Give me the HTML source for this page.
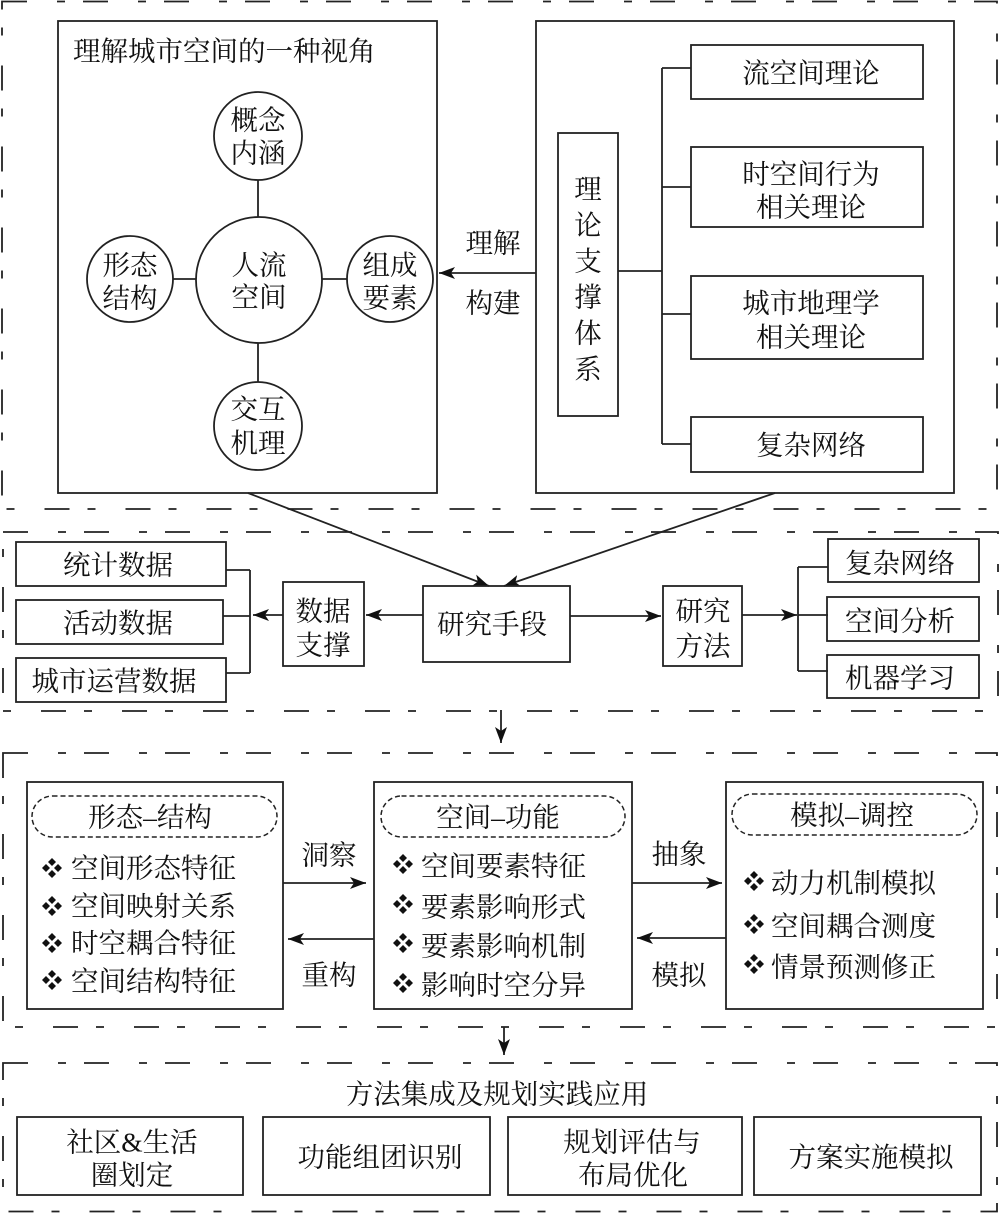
<!DOCTYPE html>
<html><head><meta charset="utf-8">
<style>
html,body{margin:0;padding:0;background:#fff;}
svg{display:block;}
text{font-family:"Liberation Serif","Noto Serif CJK SC",serif;font-size:27.5px;fill:#111;dominant-baseline:central;}
.c{text-anchor:middle;}
.b{fill:none;stroke:#222;stroke-width:1.8;}
.d{fill:none;stroke:#222;stroke-width:1.8;stroke-dasharray:25 30 8 18;}
.p{fill:none;stroke:#222;stroke-width:1.5;stroke-dasharray:5 3;}
.l{stroke:#222;stroke-width:1.8;fill:none;}
</style></head>
<body>
<svg width="1000" height="1213" viewBox="0 0 1000 1213" xmlns="http://www.w3.org/2000/svg">
<defs>
<marker id="a" markerUnits="userSpaceOnUse" markerWidth="18" markerHeight="14" refX="16" refY="6" orient="auto">
<path d="M0,0 L16,6 L0,12 L4,6 Z" fill="#111"/>
</marker>
</defs>

<!-- Section 1 -->
<rect class="d" x="2" y="1.5" width="995" height="507.5"/>
<rect class="b" x="58" y="21" width="379" height="472"/>
<text x="73" y="51">理解城市空间的一种视角</text>
<line class="l" x1="258" y1="180" x2="258" y2="217"/>
<line class="l" x1="258" y1="343" x2="258" y2="382"/>
<line class="l" x1="173" y1="279" x2="196" y2="279"/>
<line class="l" x1="322" y1="279" x2="347" y2="279"/>
<circle class="b" cx="258" cy="136" r="44"/>
<circle class="b" cx="259" cy="280" r="63"/>
<circle class="b" cx="130" cy="279" r="43"/>
<circle class="b" cx="390" cy="279" r="43"/>
<circle class="b" cx="258" cy="426" r="44"/>
<text class="c" x="258" y="120">概念</text>
<text class="c" x="258" y="153">内涵</text>
<text class="c" x="259" y="265">人流</text>
<text class="c" x="259" y="297">空间</text>
<text class="c" x="130" y="265">形态</text>
<text class="c" x="130" y="298">结构</text>
<text class="c" x="390" y="265">组成</text>
<text class="c" x="390" y="298">要素</text>
<text class="c" x="258" y="409">交互</text>
<text class="c" x="258" y="443">机理</text>

<rect class="b" x="536" y="21" width="418" height="472"/>
<rect class="b" x="558" y="133" width="60" height="283"/>
<text class="c" x="588" y="189">理</text>
<text class="c" x="588" y="225">论</text>
<text class="c" x="588" y="261">支</text>
<text class="c" x="588" y="297">撑</text>
<text class="c" x="588" y="333">体</text>
<text class="c" x="588" y="369">系</text>
<line class="l" x1="618" y1="271" x2="662" y2="271"/>
<line class="l" x1="662" y1="68" x2="662" y2="444"/>
<line class="l" x1="662" y1="68" x2="691" y2="68"/>
<line class="l" x1="662" y1="187" x2="691" y2="187"/>
<line class="l" x1="662" y1="314" x2="691" y2="314"/>
<line class="l" x1="662" y1="444" x2="691" y2="444"/>
<rect class="b" x="691" y="45" width="232" height="54"/>
<rect class="b" x="691" y="147" width="232" height="80"/>
<rect class="b" x="691" y="276" width="232" height="83"/>
<rect class="b" x="691" y="417" width="232" height="55"/>
<text class="c" x="811" y="73">流空间理论</text>
<text class="c" x="811" y="174">时空间行为</text>
<text class="c" x="811" y="207">相关理论</text>
<text class="c" x="811" y="303">城市地理学</text>
<text class="c" x="811" y="337">相关理论</text>
<text class="c" x="811" y="445">复杂网络</text>

<line class="l" x1="536" y1="273" x2="439" y2="273" marker-end="url(#a)"/>
<text class="c" x="493" y="243">理解</text>
<text class="c" x="493" y="303">构建</text>

<!-- connectors to section 2 -->
<line class="l" x1="248" y1="493" x2="489" y2="586" marker-end="url(#a)"/>
<line class="l" x1="775" y1="493" x2="504" y2="586" marker-end="url(#a)"/>

<!-- Section 2 -->
<rect class="d" x="3" y="532" width="995" height="179"/>
<rect class="b" x="16" y="542" width="210" height="44"/>
<rect class="b" x="16" y="600" width="207" height="44"/>
<rect class="b" x="16" y="658" width="210" height="44"/>
<text class="c" x="118" y="565">统计数据</text>
<text class="c" x="118" y="623">活动数据</text>
<text class="c" x="114" y="681">城市运营数据</text>
<line class="l" x1="226" y1="570" x2="250" y2="570"/>
<line class="l" x1="223" y1="616" x2="250" y2="616"/>
<line class="l" x1="226" y1="673" x2="250" y2="673"/>
<line class="l" x1="250" y1="570" x2="250" y2="673"/>
<line class="l" x1="283" y1="615" x2="253" y2="615" marker-end="url(#a)"/>
<rect class="b" x="283" y="582" width="81" height="84"/>
<text class="c" x="323" y="611">数据</text>
<text class="c" x="323" y="645">支撑</text>
<line class="l" x1="423" y1="615" x2="366" y2="615" marker-end="url(#a)"/>
<rect class="b" x="423" y="586" width="147" height="76"/>
<text class="c" x="492" y="624">研究手段</text>
<line class="l" x1="570" y1="616" x2="661" y2="616" marker-end="url(#a)"/>
<rect class="b" x="663" y="586" width="79" height="80"/>
<text class="c" x="703" y="611">研究</text>
<text class="c" x="703" y="646">方法</text>
<line class="l" x1="742" y1="615" x2="797" y2="615" marker-end="url(#a)"/>
<line class="l" x1="798" y1="567" x2="798" y2="671"/>
<line class="l" x1="798" y1="567" x2="828" y2="567"/>
<line class="l" x1="798" y1="615" x2="828" y2="615"/>
<line class="l" x1="798" y1="671" x2="828" y2="671"/>
<rect class="b" x="828" y="539" width="151" height="43"/>
<rect class="b" x="827" y="597" width="152" height="44"/>
<rect class="b" x="827" y="655" width="152" height="43"/>
<text class="c" x="900" y="563">复杂网络</text>
<text class="c" x="900" y="621">空间分析</text>
<text class="c" x="900" y="678">机器学习</text>

<line class="l" x1="501" y1="710" x2="501" y2="743" marker-end="url(#a)"/>

<!-- Section 3 -->
<rect class="d" x="3" y="753" width="994" height="274"/>
<rect class="b" x="27" y="782" width="256" height="227"/>
<rect class="b" x="374" y="782" width="258" height="227"/>
<rect class="b" x="726" y="782" width="257" height="227"/>
<rect class="p" x="32" y="796" width="245" height="41" rx="20.5"/>
<rect class="p" x="381" y="796" width="244" height="41" rx="20.5"/>
<rect class="p" x="732" y="794" width="245" height="41" rx="20.5"/>
<text class="c" x="150" y="817">形态–结构</text>
<text class="c" x="498" y="817">空间–功能</text>
<text class="c" x="852" y="815">模拟–调控</text>

<g fill="#111">
<!-- bullets left -->
<g transform="translate(52,868)"><path d="M0,-10 L4,-6 L0,-2 L-4,-6Z M0,2 L4,6 L0,10 L-4,6Z M-10,0 L-6,-4 L-2,0 L-6,4Z M2,0 L6,-4 L10,0 L6,4Z"/></g>
<g transform="translate(52,906)"><path d="M0,-10 L4,-6 L0,-2 L-4,-6Z M0,2 L4,6 L0,10 L-4,6Z M-10,0 L-6,-4 L-2,0 L-6,4Z M2,0 L6,-4 L10,0 L6,4Z"/></g>
<g transform="translate(52,943)"><path d="M0,-10 L4,-6 L0,-2 L-4,-6Z M0,2 L4,6 L0,10 L-4,6Z M-10,0 L-6,-4 L-2,0 L-6,4Z M2,0 L6,-4 L10,0 L6,4Z"/></g>
<g transform="translate(52,980)"><path d="M0,-10 L4,-6 L0,-2 L-4,-6Z M0,2 L4,6 L0,10 L-4,6Z M-10,0 L-6,-4 L-2,0 L-6,4Z M2,0 L6,-4 L10,0 L6,4Z"/></g>
<!-- bullets middle -->
<g transform="translate(403,864)"><path d="M0,-10 L4,-6 L0,-2 L-4,-6Z M0,2 L4,6 L0,10 L-4,6Z M-10,0 L-6,-4 L-2,0 L-6,4Z M2,0 L6,-4 L10,0 L6,4Z"/></g>
<g transform="translate(403,904)"><path d="M0,-10 L4,-6 L0,-2 L-4,-6Z M0,2 L4,6 L0,10 L-4,6Z M-10,0 L-6,-4 L-2,0 L-6,4Z M2,0 L6,-4 L10,0 L6,4Z"/></g>
<g transform="translate(403,943)"><path d="M0,-10 L4,-6 L0,-2 L-4,-6Z M0,2 L4,6 L0,10 L-4,6Z M-10,0 L-6,-4 L-2,0 L-6,4Z M2,0 L6,-4 L10,0 L6,4Z"/></g>
<g transform="translate(403,983)"><path d="M0,-10 L4,-6 L0,-2 L-4,-6Z M0,2 L4,6 L0,10 L-4,6Z M-10,0 L-6,-4 L-2,0 L-6,4Z M2,0 L6,-4 L10,0 L6,4Z"/></g>
<!-- bullets right -->
<g transform="translate(754,881)"><path d="M0,-10 L4,-6 L0,-2 L-4,-6Z M0,2 L4,6 L0,10 L-4,6Z M-10,0 L-6,-4 L-2,0 L-6,4Z M2,0 L6,-4 L10,0 L6,4Z"/></g>
<g transform="translate(754,924)"><path d="M0,-10 L4,-6 L0,-2 L-4,-6Z M0,2 L4,6 L0,10 L-4,6Z M-10,0 L-6,-4 L-2,0 L-6,4Z M2,0 L6,-4 L10,0 L6,4Z"/></g>
<g transform="translate(754,964)"><path d="M0,-10 L4,-6 L0,-2 L-4,-6Z M0,2 L4,6 L0,10 L-4,6Z M-10,0 L-6,-4 L-2,0 L-6,4Z M2,0 L6,-4 L10,0 L6,4Z"/></g>
</g>

<text x="71" y="868">空间形态特征</text>
<text x="71" y="906">空间映射关系</text>
<text x="71" y="943">时空耦合特征</text>
<text x="71" y="981">空间结构特征</text>
<text x="421" y="866">空间要素特征</text>
<text x="421" y="907">要素影响形式</text>
<text x="421" y="946">要素影响机制</text>
<text x="421" y="985">影响时空分异</text>
<text x="771" y="883">动力机制模拟</text>
<text x="771" y="926">空间耦合测度</text>
<text x="771" y="967">情景预测修正</text>

<line class="l" x1="283" y1="883" x2="366" y2="883" marker-end="url(#a)"/>
<line class="l" x1="374" y1="939" x2="288" y2="939" marker-end="url(#a)"/>
<text class="c" x="329" y="855">洞察</text>
<text class="c" x="329" y="975">重构</text>
<line class="l" x1="632" y1="883" x2="722" y2="883" marker-end="url(#a)"/>
<line class="l" x1="726" y1="938" x2="637" y2="938" marker-end="url(#a)"/>
<text class="c" x="679" y="854">抽象</text>
<text class="c" x="679" y="975">模拟</text>

<line class="l" x1="504" y1="1027" x2="504" y2="1055" marker-end="url(#a)"/>

<!-- Section 4 -->
<rect class="d" x="3" y="1063" width="994" height="148.5"/>
<text class="c" x="497" y="1094">方法集成及规划实践应用</text>
<rect class="b" x="17" y="1117" width="226" height="78"/>
<rect class="b" x="263" y="1117" width="227" height="78"/>
<rect class="b" x="508" y="1117" width="234" height="78"/>
<rect class="b" x="754" y="1117" width="227" height="78"/>
<text class="c" x="132" y="1142">社区&amp;生活</text>
<text class="c" x="132" y="1175">圈划定</text>
<text class="c" x="380" y="1157">功能组团识别</text>
<text class="c" x="632" y="1142">规划评估与</text>
<text class="c" x="633" y="1175">布局优化</text>
<text class="c" x="871" y="1157">方案实施模拟</text>
</svg>
</body></html>
